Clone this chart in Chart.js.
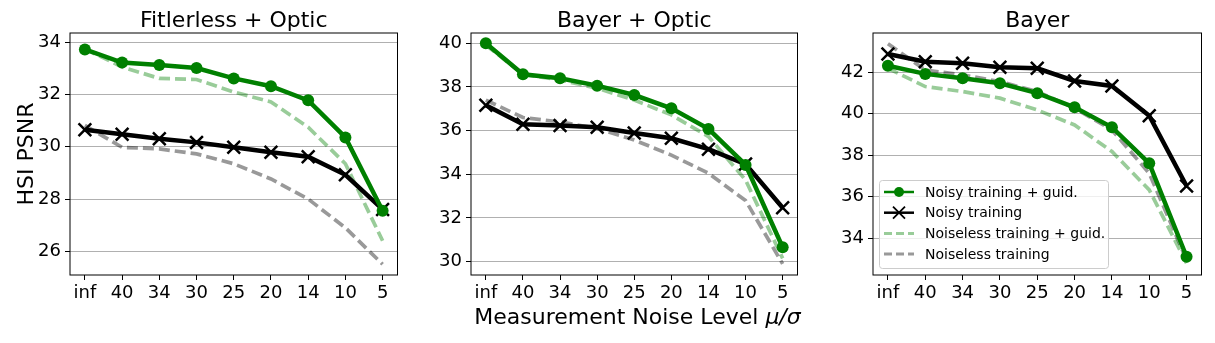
<!DOCTYPE html>
<html>
<head>
<meta charset="utf-8">
<script src="https://cdn.jsdelivr.net/npm/chart.js@4.4.1/dist/chart.umd.min.js"></script>
<style>
  body { margin: 0; background: #fff; }
  #wrap { position: relative; width: 1215px; height: 343px; overflow: hidden; }
  .panel { position: absolute; top: 0; height: 343px; }
  #xtitle { position: absolute; left: 420px; width: 435px; top: 304px; text-align: center; white-space: nowrap;
            font-family: 'DejaVu Sans', sans-serif; font-size: 22px; color: #000; }
</style>
</head>
<body>
<div id="wrap">
  <div class="panel" style="left:0px;width:409px"><canvas id="c1"></canvas></div>
  <div class="panel" style="left:421px;width:388px"><canvas id="c2"></canvas></div>
  <div class="panel" style="left:823px;width:390px"><canvas id="c3"></canvas></div>
  <div id="xtitle">Measurement Noise Level <i>μ/σ</i></div>
</div>
<script>
// x categories
const noiseLevels = ['inf', '40', '34', '30', '25', '20', '14', '10', '5'];

// Fitlerless + Optic
const foNoisyGuid     = [33.73, 33.23, 33.13, 33.02, 32.62, 32.32, 31.78, 30.36, 27.55];
const foNoisy         = [30.65, 30.48, 30.31, 30.17, 29.98, 29.79, 29.62, 28.93, 27.60];
const foNoiselessGuid = [33.75, 33.06, 32.62, 32.58, 32.10, 31.72, 30.75, 29.35, 26.40];
const foNoiseless     = [30.82, 29.98, 29.92, 29.73, 29.35, 28.77, 28.00, 26.90, 25.50];
const foTicks = [26, 28, 30, 32, 34];

// Bayer + Optic
const boNoisyGuid     = [40.00, 38.58, 38.40, 38.06, 37.63, 37.02, 36.08, 34.43, 30.66];
const boNoisy         = [37.16, 36.29, 36.23, 36.15, 35.89, 35.65, 35.15, 34.47, 32.47];
const boNoiselessGuid = [39.92, 38.58, 38.32, 37.94, 37.40, 36.72, 35.73, 33.74, 30.15];
const boNoiseless     = [37.40, 36.60, 36.40, 36.10, 35.57, 34.88, 34.05, 32.80, 29.90];
const boTicks = [30, 32, 34, 36, 38, 40];

// Bayer
const bNoisyGuid     = [42.31, 41.92, 41.71, 41.47, 40.99, 40.31, 39.35, 37.61, 33.11];
const bNoisy         = [42.88, 42.51, 42.43, 42.24, 42.19, 41.58, 41.34, 39.90, 36.52];
const bNoiselessGuid = [42.19, 41.31, 41.07, 40.75, 40.18, 39.46, 38.18, 36.33, 32.80];
const bNoiseless     = [43.37, 42.11, 41.87, 41.55, 41.07, 40.27, 39.22, 37.13, 32.96];
const bTicks = [34, 36, 38, 40, 42];

Chart.defaults.font.family = "'DejaVu Sans', sans-serif";
Chart.defaults.font.size = 18;
Chart.defaults.color = '#000';

const toXY = arr => arr.map((v, i) => ({ x: i, y: v }));

function buildDatasets(noisyGuid, noisy, noiselessGuid, noiseless) {
    return [
        { label: 'Noisy training + guid.', data: toXY(noisyGuid), borderColor: '#008000', backgroundColor: '#008000',
          borderWidth: 4.5, pointStyle: 'circle', pointRadius: 6, pointBorderWidth: 0 },
        { label: 'Noisy training', data: toXY(noisy), borderColor: '#000', backgroundColor: '#000',
          borderWidth: 4.5, pointStyle: 'crossRot', pointRadius: 9, pointBorderWidth: 2.5 },
        { label: 'Noiseless training + guid.', data: toXY(noiselessGuid), borderColor: 'rgba(0,128,0,0.4)',
          borderWidth: 3.7, borderDash: [11, 5], pointRadius: 0 },
        { label: 'Noiseless training', data: toXY(noiseless), borderColor: 'rgba(0,0,0,0.4)',
          borderWidth: 3.7, borderDash: [11, 5], pointRadius: 0 }
    ];
}

// title above plot area + full frame around it
const framePlugin = {
    id: 'frame',
    afterDraw(chart, args, opts) {
        const a = chart.chartArea, ctx = chart.ctx;
        ctx.save();
        ctx.strokeStyle = '#000';
        ctx.lineWidth = 1;
        ctx.strokeRect(a.left, a.top, a.right - a.left, a.bottom - a.top);
        ctx.fillStyle = '#000';
        ctx.font = "22px 'DejaVu Sans', sans-serif";
        ctx.textAlign = 'center';
        ctx.textBaseline = 'alphabetic';
        ctx.fillText(opts.text, (a.left + a.right) / 2, a.top - 6);
        ctx.restore();
    }
};

// legend drawn inside plot area (lower left)
const innerLegend = {
    id: 'innerLegend',
    afterDatasetsDraw(chart, args, opts) {
        if (!opts.show) return;
        const a = chart.chartArea, ctx = chart.ctx;
        const w = 229, h = 88;
        const left = a.left + 6, top = a.bottom - 7 - h;
        ctx.save();
        ctx.fillStyle = 'rgba(255,255,255,0.8)';
        ctx.strokeStyle = '#cccccc';
        ctx.lineWidth = 1;
        ctx.beginPath();
        ctx.roundRect(left + 0.5, top + 0.5, w, h, 3);
        ctx.fill();
        ctx.stroke();
        ctx.font = "14px 'DejaVu Sans', sans-serif";
        ctx.textBaseline = 'middle';
        ctx.textAlign = 'left';
        chart.data.datasets.forEach((ds, i) => {
            const y = top + 12 + i * 20.7;
            const x0 = left + 5, x1 = left + 35;
            ctx.strokeStyle = ds.borderColor;
            ctx.lineWidth = ds.borderDash ? 3 : 2.5;
            ctx.setLineDash(ds.borderDash ? [8, 4] : []);
            ctx.beginPath();
            ctx.moveTo(x0, y);
            ctx.lineTo(x1, y);
            ctx.stroke();
            ctx.setLineDash([]);
            const cx = (x0 + x1) / 2;
            if (ds.pointStyle === 'circle') {
                ctx.fillStyle = ds.borderColor;
                ctx.beginPath();
                ctx.arc(cx, y, 5, 0, Math.PI * 2);
                ctx.fill();
            } else if (ds.pointStyle === 'crossRot') {
                ctx.lineWidth = 1.8;
                ctx.beginPath();
                ctx.moveTo(cx - 6, y - 6); ctx.lineTo(cx + 6, y + 6);
                ctx.moveTo(cx - 6, y + 6); ctx.lineTo(cx + 6, y - 6);
                ctx.stroke();
            }
            ctx.fillStyle = '#000';
            ctx.fillText(ds.label, left + 46, y + 1);
        });
        ctx.restore();
    }
};

function makeChart(id, title, datasets, yTicks, yMin, yMax, axisW, yTitle, showLegend) {
    const ctx = document.getElementById(id).getContext('2d');
    return new Chart(ctx, {
        type: 'line',
        data: { datasets: datasets },
        plugins: [framePlugin, innerLegend],
        options: {
            responsive: true,
            maintainAspectRatio: false,
            animation: false,
            layout: { padding: { top: 33, right: 6, bottom: 38, left: 0 } },
            scales: {
                x: {
                    type: 'linear',
                    min: -0.4,
                    max: 8.4,
                    afterBuildTicks: scale => { scale.ticks = noiseLevels.map((_, i) => ({ value: i })); },
                    afterFit: scale => { scale.height = 30; },
                    ticks: { callback: v => noiseLevels[v], padding: 3, maxRotation: 0, autoSkip: false },
                    grid: { drawOnChartArea: false, drawTicks: true, tickLength: 5, tickColor: '#000' },
                    border: { display: false }
                },
                y: {
                    min: yMin,
                    max: yMax,
                    afterBuildTicks: scale => { scale.ticks = yTicks.map(v => ({ value: v })); },
                    afterFit: scale => { scale.width = axisW; },
                    ticks: { padding: 4 },
                    grid: { color: '#b0b0b0', lineWidth: 1, tickLength: 5, tickColor: '#000' },
                    border: { display: false },
                    title: { display: !!yTitle, text: yTitle || '', font: { size: 22 }, padding: { top: 14, bottom: 0 } }
                }
            },
            plugins: {
                legend: { display: false },
                tooltip: { enabled: false },
                frame: { text: title },
                innerLegend: { show: showLegend }
            }
        }
    });
}

makeChart('c1', 'Fitlerless + Optic', buildDatasets(foNoisyGuid, foNoisy, foNoiselessGuid, foNoiseless),
    foTicks, 25.09, 34.36, 70, 'HSI PSNR', false);
makeChart('c2', 'Bayer + Optic', buildDatasets(boNoisyGuid, boNoisy, boNoiselessGuid, boNoiseless),
    boTicks, 29.39, 40.47, 50, null, false);
makeChart('c3', 'Bayer', buildDatasets(bNoisyGuid, bNoisy, bNoiselessGuid, bNoiseless),
    bTicks, 32.23, 43.89, 50, null, true);
</script>
</body>
</html>
